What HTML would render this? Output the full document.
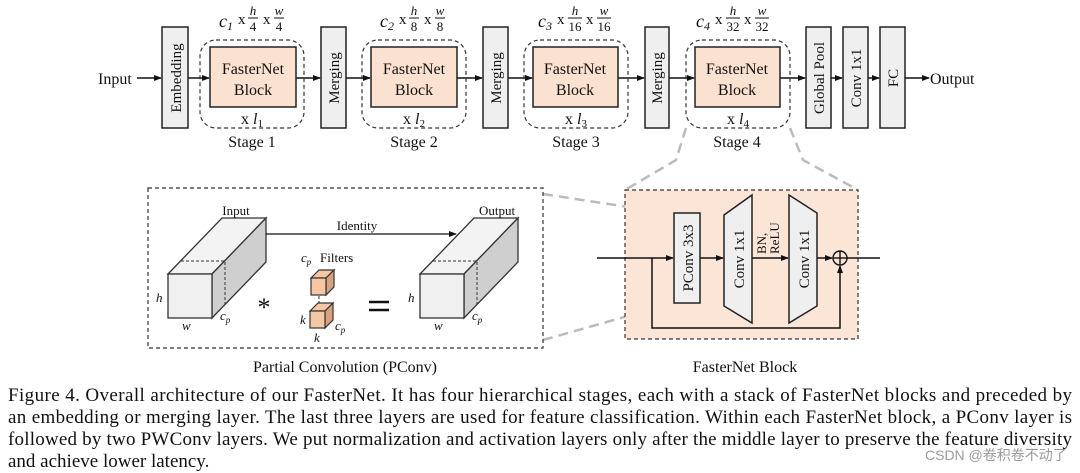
<!DOCTYPE html>
<html><head><meta charset="utf-8"><style>
html,body{margin:0;padding:0;background:#fff;width:1080px;height:473px;overflow:hidden}
svg{display:block}
text{font-family:"Liberation Serif","Times New Roman",serif;fill:#111}
</style></head><body>
<svg width="1080" height="473" viewBox="0 0 1080 473" xmlns="http://www.w3.org/2000/svg">
<defs>
<marker id="a" markerWidth="8" markerHeight="8" refX="7" refY="4" orient="auto" markerUnits="userSpaceOnUse"><path d="M0,1 L8,4 L0,7 z" fill="#111"/></marker>
</defs>
<g font-size="16">
<text x="98" y="84">Input</text>
<g stroke="#111" stroke-width="1.5" fill="none" marker-end="url(#a)">
<line x1="137" y1="78" x2="161" y2="78"/>
<line x1="188" y1="78" x2="209" y2="78"/>
<line x1="296" y1="78" x2="320" y2="78"/>
<line x1="346" y1="78" x2="370" y2="78"/>
<line x1="457" y1="78" x2="482" y2="78"/>
<line x1="508" y1="78" x2="532" y2="78"/>
<line x1="618" y1="78" x2="644" y2="78"/>
<line x1="669" y1="78" x2="694" y2="78"/>
<line x1="780" y1="78" x2="805" y2="78"/>
<line x1="831" y1="78" x2="842" y2="78"/>
<line x1="868" y1="78" x2="879" y2="78"/>
<line x1="905" y1="78" x2="929" y2="78"/>
</g>
<text x="930" y="84">Output</text>
<g fill="#efefef" stroke="#222" stroke-width="1.5">
<rect x="162" y="27" width="26" height="101"/>
<rect x="321" y="27" width="25" height="101"/>
<rect x="483" y="27" width="25" height="101"/>
<rect x="645" y="27" width="24" height="101"/>
<rect x="806" y="27" width="25" height="101"/>
<rect x="843" y="27" width="25" height="101"/>
<rect x="880" y="27" width="25" height="101"/>
</g>
<g fill="none" stroke="#333" stroke-width="1.2" stroke-dasharray="4,3">
<rect x="200" y="40" width="104" height="88" rx="16"/>
<rect x="362" y="40" width="104" height="88" rx="16"/>
<rect x="524" y="40" width="104" height="88" rx="16"/>
<rect x="686" y="40" width="104" height="88" rx="16"/>
</g>
<g fill="#fbe1cf" stroke="#222" stroke-width="1.5">
<rect x="210" y="47" width="86" height="60"/>
<rect x="371" y="47" width="86" height="60"/>
<rect x="533" y="47" width="85" height="60"/>
<rect x="695" y="47" width="85" height="60"/>
</g>
<g text-anchor="middle">
<text x="253" y="74">FasterNet</text><text x="253" y="95">Block</text>
<text x="414" y="74">FasterNet</text><text x="414" y="95">Block</text>
<text x="575" y="74">FasterNet</text><text x="575" y="95">Block</text>
<text x="737" y="74">FasterNet</text><text x="737" y="95">Block</text>
<text x="252" y="124">x <tspan font-style="italic">l</tspan><tspan font-size="11" dy="3">1</tspan></text>
<text x="414" y="124">x <tspan font-style="italic">l</tspan><tspan font-size="11" dy="3">2</tspan></text>
<text x="576" y="124">x <tspan font-style="italic">l</tspan><tspan font-size="11" dy="3">3</tspan></text>
<text x="738" y="124">x <tspan font-style="italic">l</tspan><tspan font-size="11" dy="3">4</tspan></text>
<text x="252" y="147">Stage 1</text>
<text x="414" y="147">Stage 2</text>
<text x="576" y="147">Stage 3</text>
<text x="737" y="147">Stage 4</text>
</g>
<g font-size="15">
<text transform="translate(181,78) rotate(-90)" text-anchor="middle">Embedding</text>
<text transform="translate(339,78) rotate(-90)" text-anchor="middle">Merging</text>
<text transform="translate(501,78) rotate(-90)" text-anchor="middle">Merging</text>
<text transform="translate(662,78) rotate(-90)" text-anchor="middle">Merging</text>
<text transform="translate(824,78) rotate(-90)" text-anchor="middle">Global Pool</text>
<text transform="translate(861,78) rotate(-90)" text-anchor="middle">Conv 1x1</text>
<text transform="translate(898,78) rotate(-90)" text-anchor="middle">FC</text>
</g>
<g font-size="18">
<text x="219" y="27" font-style="italic">c<tspan font-size="12" dy="3">1</tspan></text>
<text x="238" y="24" font-size="15">x</text>
<text x="253" y="15" font-size="13" font-style="italic" text-anchor="middle">h</text><line x1="248" y1="18" x2="258" y2="18" stroke="#111"/><text x="253" y="31" font-size="13" text-anchor="middle">4</text>
<text x="263" y="24" font-size="15">x</text>
<text x="279" y="15" font-size="13" font-style="italic" text-anchor="middle">w</text><line x1="274" y1="18" x2="284" y2="18" stroke="#111"/><text x="279" y="31" font-size="13" text-anchor="middle">4</text>

<text x="380" y="27" font-style="italic">c<tspan font-size="12" dy="3">2</tspan></text>
<text x="399" y="24" font-size="15">x</text>
<text x="414" y="15" font-size="13" font-style="italic" text-anchor="middle">h</text><line x1="409" y1="18" x2="419" y2="18" stroke="#111"/><text x="414" y="31" font-size="13" text-anchor="middle">8</text>
<text x="424" y="24" font-size="15">x</text>
<text x="440" y="15" font-size="13" font-style="italic" text-anchor="middle">w</text><line x1="435" y1="18" x2="445" y2="18" stroke="#111"/><text x="440" y="31" font-size="13" text-anchor="middle">8</text>

<text x="538" y="27" font-style="italic">c<tspan font-size="12" dy="3">3</tspan></text>
<text x="557" y="24" font-size="15">x</text>
<text x="575" y="15" font-size="13" font-style="italic" text-anchor="middle">h</text><line x1="568" y1="18" x2="582" y2="18" stroke="#111"/><text x="575" y="31" font-size="13" text-anchor="middle">16</text>
<text x="586" y="24" font-size="15">x</text>
<text x="604" y="15" font-size="13" font-style="italic" text-anchor="middle">w</text><line x1="597" y1="18" x2="611" y2="18" stroke="#111"/><text x="604" y="31" font-size="13" text-anchor="middle">16</text>

<text x="696" y="27" font-style="italic">c<tspan font-size="12" dy="3">4</tspan></text>
<text x="715" y="24" font-size="15">x</text>
<text x="733" y="15" font-size="13" font-style="italic" text-anchor="middle">h</text><line x1="726" y1="18" x2="740" y2="18" stroke="#111"/><text x="733" y="31" font-size="13" text-anchor="middle">32</text>
<text x="744" y="24" font-size="15">x</text>
<text x="762" y="15" font-size="13" font-style="italic" text-anchor="middle">w</text><line x1="755" y1="18" x2="769" y2="18" stroke="#111"/><text x="762" y="31" font-size="13" text-anchor="middle">32</text>
</g>

<g stroke="#bbb" stroke-width="2.5" stroke-dasharray="10,6" fill="none">
<polyline points="686,128 676,160 625,190"/>
<polyline points="790,128 803,160 858,190"/>
<line x1="543" y1="194" x2="674" y2="214"/>
<line x1="543" y1="340" x2="674" y2="303"/>
</g>

<rect x="148" y="188" width="395" height="160" fill="none" stroke="#333" stroke-width="1.2" stroke-dasharray="4,3"/>
<text x="345" y="372" text-anchor="middle">Partial Convolution (PConv)</text>
<g stroke="#333" stroke-width="1.3">
<polygon points="168,274 222,218 266,218 212,274" fill="#f3f3f3"/>
<polygon points="212,274 266,218 266,262 212,318" fill="#cfcfcf"/>
<rect x="168" y="274" width="44" height="44" fill="#f0f0f0"/>
<polygon points="420,274 474,218 518,218 464,274" fill="#f3f3f3"/>
<polygon points="464,274 518,218 518,262 464,318" fill="#cfcfcf"/>
<rect x="420" y="274" width="44" height="44" fill="#f0f0f0"/>
</g>
<g stroke="#333" stroke-width="1" stroke-dasharray="3,2" fill="none">
<polyline points="181,261 225,261 225,305"/>
<polyline points="433,261 477,261 477,305"/>
<line x1="319" y1="296" x2="319" y2="311"/>
</g>
<g stroke="#333" stroke-width="1.2" fill="#f5c7a5">
<polygon points="311,278 319,270 334,270 326,278"/><polygon points="326,278 334,270 334,287 326,295" fill="#d9a27e"/><rect x="311" y="278" width="15" height="17"/>
<polygon points="310,311 318,303 333,303 325,311"/><polygon points="325,311 333,303 333,320 325,328" fill="#d9a27e"/><rect x="310" y="311" width="15" height="17"/>
</g>
<line x1="266" y1="234" x2="456" y2="234" stroke="#111" stroke-width="1.3" marker-end="url(#a)"/>
<g font-size="13">
<text x="236" y="215" text-anchor="middle">Input</text>
<text x="497" y="215" text-anchor="middle">Output</text>
<text x="357" y="230" text-anchor="middle">Identity</text>
<text x="301" y="262" font-style="italic">c<tspan font-size="9" dy="3">p</tspan></text><text x="320" y="262">Filters</text>
<text x="156" y="302" font-style="italic">h</text>
<text x="408" y="302" font-style="italic">h</text>
<text x="182" y="330" font-style="italic">w</text>
<text x="434" y="330" font-style="italic">w</text>
<text x="220" y="320" font-style="italic">c<tspan font-size="9" dy="3">p</tspan></text>
<text x="472" y="320" font-style="italic">c<tspan font-size="9" dy="3">p</tspan></text>
<text x="300" y="324" font-style="italic">k</text>
<text x="314" y="342" font-style="italic">k</text>
<text x="335" y="330" font-style="italic">c<tspan font-size="9" dy="3">p</tspan></text>
</g>
<text x="264" y="316" font-size="26" text-anchor="middle">*</text>
<g stroke="#111" stroke-width="2.5"><line x1="369" y1="302" x2="389" y2="302"/><line x1="369" y1="310" x2="389" y2="310"/></g>

<rect x="625" y="190" width="233" height="149" fill="#fbe5d6" stroke="#333" stroke-width="1.2" stroke-dasharray="4,3"/>
<text x="745" y="372" text-anchor="middle">FasterNet Block</text>
<g stroke="#111" stroke-width="1.5" fill="none">
<line x1="597" y1="258" x2="673" y2="258" marker-end="url(#a)"/>
<line x1="700" y1="258" x2="723" y2="258" marker-end="url(#a)"/>
<line x1="752" y1="258" x2="788" y2="258" marker-end="url(#a)"/>
<line x1="817" y1="258" x2="832" y2="258" marker-end="url(#a)"/>
<line x1="847" y1="258" x2="880" y2="258"/>
<polyline points="652,258 652,328 840,328 840,266" marker-end="url(#a)"/>
</g>
<g stroke="#222" stroke-width="1.5" fill="#efefef">
<rect x="674" y="213" width="26" height="90"/>
<polygon points="724,215 752,195 752,323 724,306"/>
<polygon points="789,195 817,213 817,306 789,323"/>
</g>
<circle cx="840" cy="258" r="7" fill="none" stroke="#111" stroke-width="1.4"/>
<line x1="833" y1="258" x2="847" y2="258" stroke="#111" stroke-width="1.4"/>
<line x1="840" y1="251" x2="840" y2="265" stroke="#111" stroke-width="1.4"/>
<g font-size="15">
<text transform="translate(693,258) rotate(-90)" text-anchor="middle">PConv 3x3</text>
<text transform="translate(744,259) rotate(-90)" text-anchor="middle">Conv 1x1</text>
<text transform="translate(809,259) rotate(-90)" text-anchor="middle">Conv 1x1</text>
</g>
<g font-size="13">
<text transform="translate(766,254) rotate(-90)">BN,</text>
<text transform="translate(779,254) rotate(-90)">ReLU</text>
</g>
</g>

<g font-size="19">
<text x="8" y="401" textLength="1064" lengthAdjust="spacing">Figure 4.  Overall architecture of our FasterNet.  It has four hierarchical stages, each with a stack of FasterNet blocks and preceded by</text>
<text x="8" y="423" textLength="1064" lengthAdjust="spacing">an embedding or merging layer.  The last three layers are used for feature classification.  Within each FasterNet block, a PConv layer is</text>
<text x="8" y="445" textLength="1064" lengthAdjust="spacing">followed by two PWConv layers.  We put normalization and activation layers only after the middle layer to preserve the feature diversity</text>
<text x="8" y="467">and achieve lower latency.</text>
</g>
<text x="925" y="460" font-size="14" style="font-family:'Liberation Sans','Noto Sans CJK SC',sans-serif;fill:#999">CSDN @卷积卷不动了</text>
</svg>
</body></html>
